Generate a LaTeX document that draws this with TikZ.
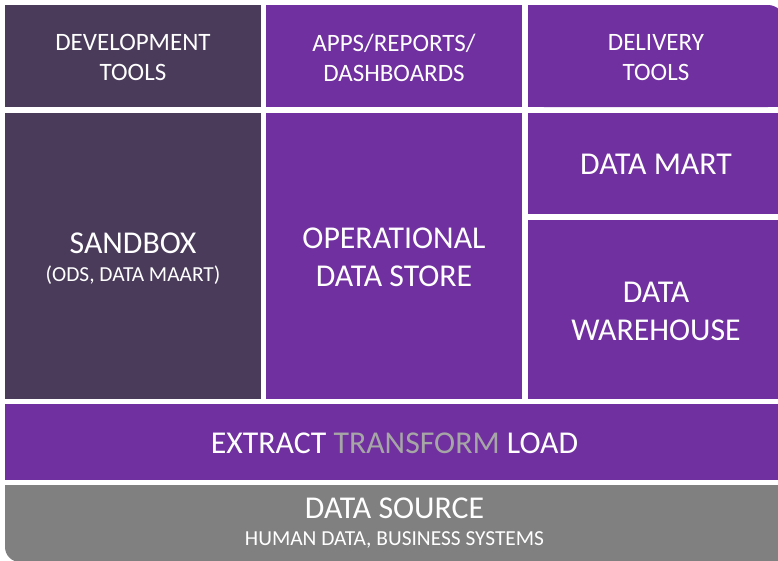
\documentclass[tikz,border=0pt]{standalone}
\usepackage{fontspec}
\setmainfont{Carlito}
\definecolor{darkp}{HTML}{4A3B5B}
\definecolor{purp}{HTML}{7030A0}
\definecolor{grayds}{HTML}{808080}
\definecolor{transg}{HTML}{A6A6A6}
\begin{document}
\begin{tikzpicture}[x=1pt,y=-1pt,
  lbl/.style={text=white, align=center, inner sep=0pt},
  small/.style={lbl, font=\fontsize{25}{29.5}\selectfont},
  big/.style={lbl, font=\fontsize{31.8}{38}\selectfont},
  sub/.style={lbl, font=\fontsize{21.4}{25}\selectfont}]
\useasboundingbox (0,0) rectangle (778,560);
\fill[white] (0,0) rectangle (778,560);
\begin{scope}
\clip (0,0) rectangle (778,560);
% top row
\fill[darkp] (5,5) rectangle (261,107);
\fill[purp] (266,5) rectangle (522,107);
\fill[purp, rounded corners=16pt] (528,5) rectangle (784,107);
\fill[purp] (528,5) rectangle (700,107);
\fill[purp] (528,50) rectangle (784,107);
% middle
\fill[darkp] (5,113) rectangle (261,399);
\fill[purp] (266,113) rectangle (522,399);
\fill[purp] (528,113) rectangle (784,214);
\fill[purp] (528,220) rectangle (784,399);
% ETL
\fill[purp] (5,404) rectangle (784,480);
% data source
\fill[grayds, rounded corners=15pt] (5,485) rectangle (784,562);
\fill[grayds] (5,485) rectangle (784,520);
\fill[grayds] (100,485) rectangle (784,562);
\end{scope}
\node[small] (dev) at (133,57.5) {DEVELOPMENT\\TOOLS};
\node[small] (apps) at (394,57.7) {APPS/REPORTS/\\DASHBOARDS};
\node[small] (deliv) at (656,57.5) {DELIVERY\\TOOLS};
\node[big] (sandbox) at (133,243) {SANDBOX};
\node[sub, anchor=base] (sandboxsub) at (133,281) {(ODS, DATA MAART)};
\node[big] (ods) at (394,257) {OPERATIONAL\\DATA STORE};
\node[big] (mart) at (656,164.5) {DATA MART};
\node[big] (wh) at (656,311) {DATA\\WAREHOUSE};
\node[big] (etl) at (394.5,443) {EXTRACT \textcolor{transg}{TRANSFORM} LOAD};
\node[big] (ds) at (394.5,508.3) {DATA SOURCE};
\node[sub] (dssub) at (394.5,540) {HUMAN DATA, BUSINESS SYSTEMS};
\end{tikzpicture}
\end{document}
